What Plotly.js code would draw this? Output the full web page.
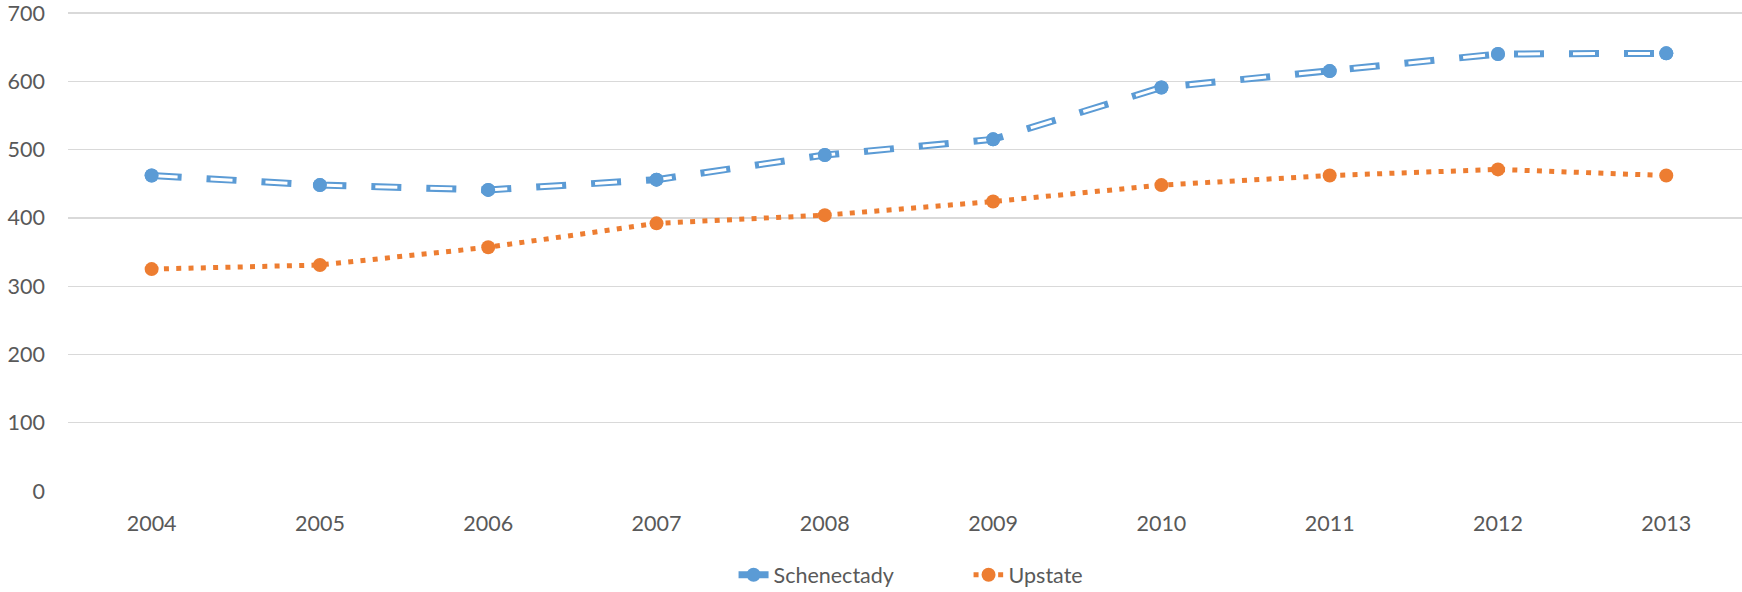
<!DOCTYPE html>
<html>
<head>
<meta charset="utf-8">
<script src="https://cdn.plot.ly/plotly-3.0.1.min.js"></script>
<style>
html,body{margin:0;padding:0;background:#fff;overflow:hidden;}
#chart{width:1742px;height:592px;}
</style>
</head>
<body>
<div id="chart"></div>
<script>
var years = ['2004','2005','2006','2007','2008','2009','2010','2011','2012','2013'];
var schenectady = [462, 448, 441, 456, 492, 515, 591, 615, 640, 641];
var upstate = [325, 331, 357, 392, 404, 424, 448, 462, 471, 462];
var yTicks = [0, 100, 200, 300, 400, 500, 600, 700];

var BLUE = '#5B9BD5';
var ORANGE = '#ED7D31';
var FONT = 'Lato, "Open Sans", sans-serif';

var traces = [
  {
    x: years, y: schenectady, name: 'Schenectady', type: 'scatter', mode: 'lines+markers',
    line: {color: BLUE, width: 7, dash: '30px,25px'},
    marker: {color: BLUE, size: 14},
    hoverinfo: 'skip'
  },
  {
    x: years, y: schenectady, name: 'Schenectady inner', type: 'scatter', mode: 'lines',
    line: {color: '#FFFFFF', width: 3, dash: '0px,4px,22px,29px'},
    showlegend: false, hoverinfo: 'skip'
  },
  {
    x: years, y: schenectady, name: 'Schenectady markers', type: 'scatter', mode: 'markers',
    marker: {color: BLUE, size: 14},
    showlegend: false, hoverinfo: 'skip'
  },
  {
    x: years, y: upstate, name: 'Upstate', type: 'scatter', mode: 'lines+markers',
    line: {color: ORANGE, width: 5, dash: '5px,7.3px'},
    marker: {color: ORANGE, size: 14},
    hoverinfo: 'skip'
  }
];

var layout = {
  width: 1742, height: 592,
  margin: {l: 68, r: 0, t: 10.65, b: 101.3, pad: 0, autoexpand: false},
  paper_bgcolor: '#FFFFFF', plot_bgcolor: '#FFFFFF',
  font: {family: FONT, size: 21.5, color: '#595959'},
  showlegend: true,
  legend: {
    orientation: 'h', xref: 'container', yref: 'container',
    x: 0.556, xanchor: 'center', y: 0.029, yanchor: 'middle',
    font: {family: FONT, size: 21.5, color: '#595959'},
    entrywidth: 190, entrywidthmode: 'pixels', bgcolor: 'rgba(0,0,0,0)'
  },
  xaxis: {
    type: 'category', range: [-0.497, 9.45],
    showgrid: false, zeroline: false, showline: false,
    ticks: '', ticklabelstandoff: 17,
    tickfont: {family: FONT, size: 21.5, color: '#595959'},
    fixedrange: true
  },
  yaxis: {
    range: [0, 703], tickvals: yTicks, ticktext: yTicks.map(String),
    showgrid: true, gridcolor: '#D9D9D9', gridwidth: 1.3,
    zeroline: false, showline: false, ticks: '', ticklabelstandoff: 22,
    ticklabeloverflow: 'allow',
    tickfont: {family: FONT, size: 21.5, color: '#595959'},
    fixedrange: true
  }
};

Plotly.newPlot('chart', traces, layout, {displayModeBar: false, staticPlot: true});
</script>
</body>
</html>
